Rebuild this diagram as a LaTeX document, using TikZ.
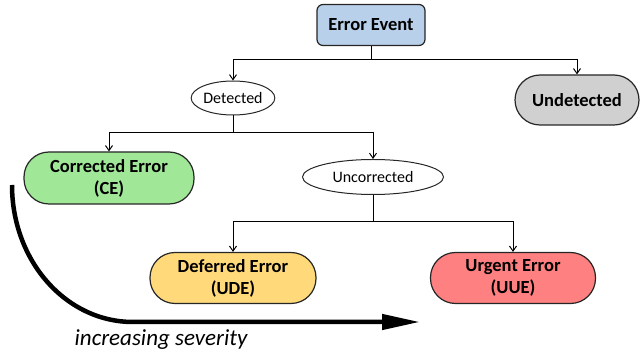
\documentclass[tikz,border=0pt]{standalone}
\usepackage{fontspec}
\setmainfont{Carlito}
\usetikzlibrary{arrows.meta,shapes.geometric}
\definecolor{evblue}{RGB}{184,208,234}
\definecolor{cegreen}{RGB}{160,232,152}
\definecolor{udgray}{RGB}{208,208,208}
\definecolor{udeyellow}{RGB}{255,217,122}
\definecolor{uuered}{RGB}{255,128,128}
\begin{document}
\begin{tikzpicture}[x=1pt,y=-1pt,
  outcome/.style={draw=black!85, line width=1.2pt, rounded corners=25pt,
    minimum height=51pt, inner sep=0pt, align=center,
    font=\fontsize{18.5}{22}\selectfont\bfseries},
  question/.style={ellipse, draw=black!85, line width=1pt, inner sep=0pt,
    font=\fontsize{16}{19}\selectfont},
  junction/.style={line width=1pt},
  link/.style={line width=1pt, -{Straight Barb[length=5pt,width=7pt]}}]
\useasboundingbox (0,0) rectangle (641,355);

% root event
\node[draw=black!85, line width=1.2pt, rounded corners=6pt, fill=evblue,
  minimum width=108pt, minimum height=41pt, inner sep=0pt,
  font=\fontsize{18.5}{22}\selectfont\bfseries] (ev) at (371,25) {Error Event};

% first split
\node[question, minimum width=83pt, minimum height=34pt] (det) at (233,98) {Detected};
\node[outcome, fill=udgray, minimum width=124pt, minimum height=50pt] (und) at (577,100) {Undetected};

% second split
\node[outcome, fill=cegreen, minimum width=170pt, minimum height=52pt] (ce) at (109,178) {Corrected Error\\(CE)};
\node[question, minimum width=141pt, minimum height=35pt] (unc) at (373,177) {Uncorrected};

% leaves
\node[outcome, fill=udeyellow, minimum width=166pt] (ude) at (233,278) {Deferred Error\\(UDE)};
\node[outcome, fill=uuered, minimum width=165pt] (uue) at (513,278) {Urgent Error\\(UUE)};

% tree connectors
\coordinate (j1) at (371,60);
\coordinate (j2) at (233,133);
\coordinate (j3) at (373,222);
\draw[junction] (ev.south) -- (j1);
\draw[link] (j1) -| (det.north);
\draw[link] (j1) -| (und.north);
\draw[junction] (det.south) -- (j2);
\draw[link] (j2) -| (ce.north);
\draw[link] (j2) -| (unc.north);
\draw[junction] (unc.south) -- (j3);
\draw[link] (j3) -| (ude.north);
\draw[link] (j3) -| (uue.north);

% severity arrow: quarter-ellipse bend, then straight run to the right
\coordinate (s0) at (12,185);
\coordinate (s1) at (420,322);
\draw[line width=4.5pt, -{Triangle[length=38pt,width=15pt]}]
  (s0) .. controls (12,261) and (66,322) .. (133,322) -- (s1);
\node[font=\fontsize{23}{27}\selectfont\itshape] (sev) at (161,340) {increasing severity};
\end{tikzpicture}
\end{document}
